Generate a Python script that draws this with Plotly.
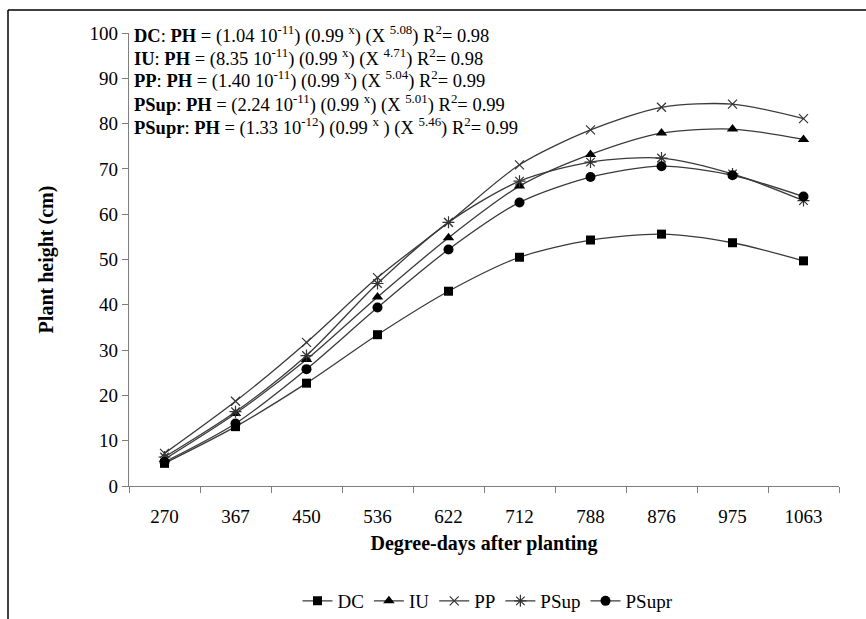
import plotly.graph_objects as go

degree_days = ["270", "367", "450", "536", "622", "712", "788", "876", "975", "1063"]
dc = [5.0, 13.1, 22.7, 33.4, 43.0, 50.5, 54.3, 55.6, 53.7, 49.7]
iu = [5.9, 16.0, 27.9, 41.7, 54.8, 66.2, 73.2, 77.9, 78.8, 76.5]
pp = [7.2, 18.7, 31.7, 46.0, 58.2, 70.9, 78.6, 83.6, 84.3, 81.1]
psup = [6.4, 16.4, 28.8, 44.7, 58.2, 67.3, 71.5, 72.4, 68.9, 63.0]
psupr = [5.3, 13.8, 25.8, 39.4, 52.2, 62.6, 68.2, 70.6, 68.6, 63.9]

series_names = ["DC", "IU", "PP", "PSup", "PSupr"]
series_values = [dc, iu, pp, psup, psupr]
markers = [
    dict(symbol="square", size=9, color="black"),
    dict(symbol="triangle-up", size=10, color="black"),
    dict(symbol="x-thin-open", size=9, color="#333333", line=dict(width=1.2, color="#333333")),
    dict(symbol="asterisk-open", size=10, color="#333333", line=dict(width=1.2, color="#333333")),
    dict(symbol="circle", size=10, color="black"),
]

equations = [
    "<b>DC</b>: <b>PH</b> = (1.04 10<sup>-11</sup>) (0.99 <sup>x</sup>) (X <sup>5.08</sup>) R<sup>2</sup>= 0.98",
    "<b>IU</b>: <b>PH</b> = (8.35 10<sup>-11</sup>) (0.99 <sup>x</sup>) (X <sup>4.71</sup>) R<sup>2</sup>= 0.98",
    "<b>PP</b>: <b>PH</b> = (1.40 10<sup>-11</sup>) (0.99 <sup>x</sup>) (X <sup>5.04</sup>) R<sup>2</sup>= 0.99",
    "<b>PSup</b>: <b>PH</b> = (2.24 10<sup>-11</sup>) (0.99 <sup>x</sup>) (X <sup>5.01</sup>) R<sup>2</sup>= 0.99",
    "<b>PSupr</b>: <b>PH</b> = (1.33 10<sup>-12</sup>) (0.99 <sup>x</sup> ) (X <sup>5.46</sup>) R<sup>2</sup>= 0.99",
]

FONT = "Times New Roman, Liberation Serif, serif"

fig = go.Figure()
for name, vals, mk in zip(series_names, series_values, markers):
    fig.add_trace(go.Scatter(
        x=degree_days, y=vals, name=name, mode="lines+markers",
        line=dict(color="#3a3a3a", width=1.3, shape="spline", smoothing=0.8),
        marker=mk,
    ))

L, R, T, B = 129, 27, 33, 133
W, H = 866, 619
pw, ph = W - L - R, H - T - B

def px(x):
    return (x - L) / pw

def py(y):
    return (H - B - y) / ph

for i, eq in enumerate(equations):
    fig.add_annotation(
        x=px(132), y=py(34 + 23 * i), xref="paper", yref="paper",
        xanchor="left", yanchor="middle", showarrow=False, text=eq,
        font=dict(family=FONT, size=18.5, color="black"),
    )

# outer frame (top and left edges)
fig.add_shape(type="line", xref="paper", yref="paper",
              x0=px(8), x1=px(866), y0=py(10), y1=py(10),
              line=dict(color="black", width=1.5))
fig.add_shape(type="line", xref="paper", yref="paper",
              x0=px(8), x1=px(8), y0=py(10), y1=py(619),
              line=dict(color="black", width=1.5))

fig.update_layout(
    width=W, height=H,
    margin=dict(l=L, r=R, t=T, b=B, autoexpand=False),
    paper_bgcolor="white", plot_bgcolor="white",
    font=dict(family=FONT, size=19, color="black"),
    showlegend=True,
    legend=dict(orientation="h", x=px(488), xanchor="center", y=py(601), yanchor="middle",
                font=dict(family=FONT, size=19), itemwidth=30, tracegroupgap=0),
    xaxis=dict(
        type="category", range=[-0.5, 9.5], tickson="boundaries",
        showline=True, linecolor="#7f7f7f", linewidth=1.2,
        ticks="outside", ticklen=6, tickcolor="#7f7f7f",
        showgrid=False, zeroline=False, ticklabelstandoff=13,
        tickfont=dict(family=FONT, size=19),
        title=dict(text="<b>Degree-days after planting</b>", font=dict(family=FONT, size=20), standoff=10),
    ),
    yaxis=dict(
        range=[0, 100], tickmode="array", tickvals=list(range(0, 101, 10)),
        showline=True, linecolor="#7f7f7f", linewidth=1.2,
        ticks="outside", ticklen=6, tickcolor="#7f7f7f",
        showgrid=False, zeroline=False,
        tickfont=dict(family=FONT, size=19),
        title=dict(text="<b>Plant height (cm)</b>", font=dict(family=FONT, size=20), standoff=30),
    ),
)

fig.write_html("out.html")
